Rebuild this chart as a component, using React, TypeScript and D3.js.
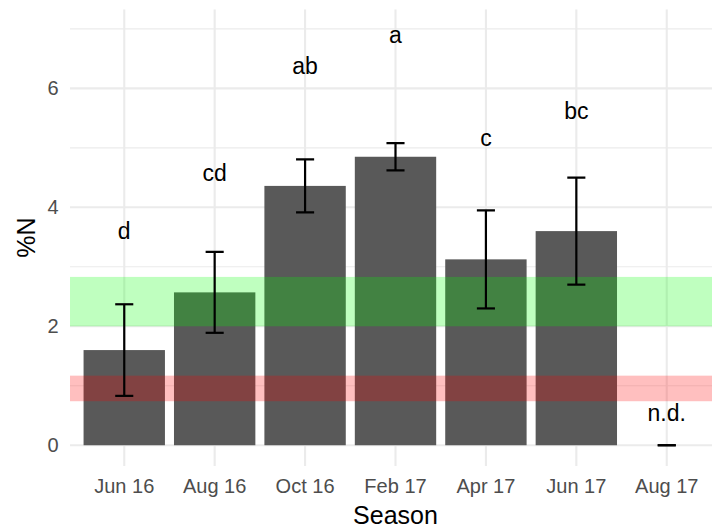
import React from "react";
import * as d3 from "d3";

// Seasonal leaf nitrogen (%N), mean ± SD with post-hoc letter groups
const seasons = ["Jun 16", "Aug 16", "Oct 16", "Feb 17", "Apr 17", "Jun 17", "Aug 17"];
const meanN = [1.6, 2.57, 4.36, 4.85, 3.125, 3.6, 0];
const sdN = [0.77, 0.68, 0.445, 0.23, 0.825, 0.9, 0];
const groupLetters = ["d", "cd", "ab", "a", "c", "bc", "n.d."];
const letterY = [3.61, 4.58, 6.38, 6.87, 5.13, 5.63, 0.54];
const yTicks = [0, 2, 4, 6];
const yMinorTicks = [1, 3, 5, 7];
// Reference ranges: sufficiency (green) and deficiency (red)
const sufficientRange = [2.0, 2.83];
const deficientRange = [0.74, 1.17];

const W = 712;
const H = 528;
const panel = { left: 70, right: 721, top: 9.3, bottom: 466 };
const FONT = "'Liberation Sans', Arial, Helvetica, sans-serif";

export default function App() {
  const x = d3
    .scaleBand<string>()
    .domain(seasons)
    .range([panel.left, panel.right])
    .paddingInner(0.1)
    .paddingOuter(0.15);
  const y = d3.scaleLinear().domain([-0.349, 7.329]).range([panel.bottom, panel.top]);
  const cx = (s: string) => (x(s) as number) + x.bandwidth() / 2;
  const capHalf = (x.step() * 0.2) / 2;
  const letterFont = 23;
  const hasAscender = (t: string) => /[bdfhklt]/.test(t);

  return (
    <svg
      width={W}
      height={H}
      style={{ position: "absolute", left: 0, top: 0, background: "#fff" }}
      fontFamily={FONT}
    >
      <defs>
        <clipPath id="panelClip">
          <rect x={panel.left} y={panel.top} width={panel.right - panel.left} height={panel.bottom - panel.top} />
        </clipPath>
      </defs>
      <rect width={W} height={H} fill="#fff" />
      <g clipPath="url(#panelClip)">
        {yMinorTicks.map((t) => (
          <line key={"mn" + t} x1={panel.left} x2={panel.right} y1={y(t)} y2={y(t)} stroke="#EBEBEB" strokeWidth={1.1} />
        ))}
        {yTicks.map((t) => (
          <line key={"mj" + t} x1={panel.left} x2={panel.right} y1={y(t)} y2={y(t)} stroke="#EBEBEB" strokeWidth={2.1} />
        ))}
        {seasons.map((s) => (
          <line key={"v" + s} x1={cx(s)} x2={cx(s)} y1={panel.top} y2={panel.bottom} stroke="#EBEBEB" strokeWidth={2.1} />
        ))}
        {seasons.map((s, i) => (
          <rect
            key={"b" + s}
            x={x(s)}
            width={x.bandwidth()}
            y={y(Math.max(meanN[i], 0))}
            height={y(0) - y(Math.max(meanN[i], 0))}
            fill="#595959"
          />
        ))}
        <rect
          x={panel.left}
          width={panel.right - panel.left}
          y={y(sufficientRange[1])}
          height={y(sufficientRange[0]) - y(sufficientRange[1])}
          fill="#00FF00"
          fillOpacity={0.25}
        />
        <rect
          x={panel.left}
          width={panel.right - panel.left}
          y={y(deficientRange[1])}
          height={y(deficientRange[0]) - y(deficientRange[1])}
          fill="#FF0000"
          fillOpacity={0.25}
        />
        {seasons.map((s, i) => {
          const lo = y(meanN[i] - sdN[i]);
          const hi = y(meanN[i] + sdN[i]);
          const c = cx(s);
          return (
            <g key={"e" + s} stroke="#000" strokeWidth={2.2}>
              {sdN[i] > 0 && <line x1={c} x2={c} y1={lo} y2={hi} />}
              <line x1={c - capHalf} x2={c + capHalf} y1={hi} y2={hi} />
              <line x1={c - capHalf} x2={c + capHalf} y1={lo} y2={lo} />
            </g>
          );
        })}
        {seasons.map((s, i) => (
          <text
            key={"l" + s}
            x={cx(s)}
            y={y(letterY[i]) + letterFont * (hasAscender(groupLetters[i]) ? 0.36 : 0.26)}
            textAnchor="middle"
            fontSize={letterFont}
            fill="#000"
          >
            {groupLetters[i]}
          </text>
        ))}
      </g>
      {yTicks.map((t) => (
        <text key={"yt" + t} x={58.5} y={y(t) + 7} textAnchor="end" fontSize={20} fill="#4D4D4D">
          {t}
        </text>
      ))}
      {seasons.map((s) => (
        <text key={"xt" + s} x={cx(s)} y={493} textAnchor="middle" fontSize={20} fill="#4D4D4D">
          {s}
        </text>
      ))}
      <text x={(panel.left + panel.right) / 2} y={524} textAnchor="middle" fontSize={25} fill="#000">
        Season
      </text>
      <text
        transform={`translate(34.5, ${(panel.top + panel.bottom) / 2}) rotate(-90)`}
        textAnchor="middle"
        fontSize={25}
        fill="#000"
      >
        %N
      </text>
    </svg>
  );
}
